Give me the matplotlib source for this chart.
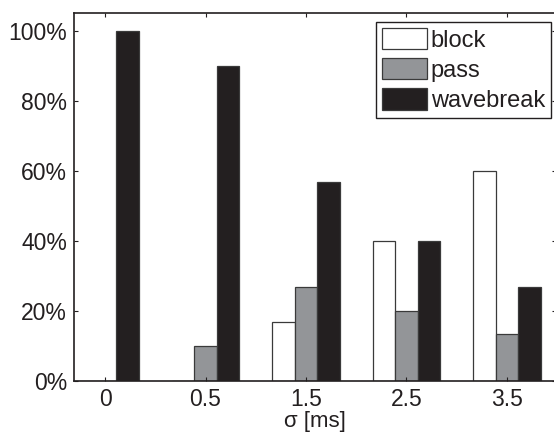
import numpy as np
import matplotlib
matplotlib.use("Agg")
from matplotlib import pyplot as plt

plt.rcParams['font.family'] = ['Liberation Sans', 'DejaVu Sans']

sigma_labels = ['0', '0.5', '1.5', '2.5', '3.5']
block = [0, 0, 16.7, 40, 60]
pass_ = [0, 10, 26.7, 20, 13.3]
wavebreak = [100, 90, 56.7, 40, 26.7]
series_names = ['block', 'pass', 'wavebreak']

text_color = '#231f20'
edge = '#3a3a3a'

fig = plt.figure(figsize=(5.54, 4.34), dpi=100)
ax = fig.add_axes([74 / 554, 53 / 434, 482 / 554, 368 / 434])

x = np.arange(1, len(sigma_labels) + 1)
w = 0.224
ax.bar(x - w, block, w, color='white', edgecolor=edge, linewidth=0.9, label=series_names[0])
ax.bar(x, pass_, w, color='#939598', edgecolor=edge, linewidth=0.9, label=series_names[1])
ax.bar(x + w, wavebreak, w, color='#231f20', edgecolor=edge, linewidth=0.9, label=series_names[2])

ax.set_xlim(0.69, 5.49)
ax.set_ylim(0, 105)
ax.set_xticks(x)
ax.set_xticklabels(sigma_labels)
ax.set_yticks([0, 20, 40, 60, 80, 100])
ax.set_yticklabels(['%d%%' % v for v in [0, 20, 40, 60, 80, 100]])

ax.tick_params(axis='both', direction='in', length=3, width=0.8, color=text_color,
               labelsize=16.5, labelcolor=text_color, top=True, right=True)
ax.tick_params(axis='x', pad=5)
ax.tick_params(axis='y', pad=5)
for s in ax.spines.values():
    s.set_color(text_color)
    s.set_linewidth(1.2)

# the original crops the axis label at the bottom edge; keep it just inside
ax.set_xlabel('σ [ms]', fontsize=16, color=text_color, labelpad=0)

leg = ax.legend(loc='upper right', bbox_to_anchor=(551 / 554, (434 - 22) / 434),
                bbox_transform=fig.transFigure, borderaxespad=0, fontsize=17,
                fancybox=False, framealpha=1, edgecolor=text_color,
                handlelength=1.9, handleheight=1.0, handletextpad=0.18,
                labelspacing=0.28, borderpad=0.25)
leg.get_frame().set_linewidth(1.0)
for t in leg.get_texts():
    t.set_color(text_color)

plt.savefig('out.png', dpi=100)
